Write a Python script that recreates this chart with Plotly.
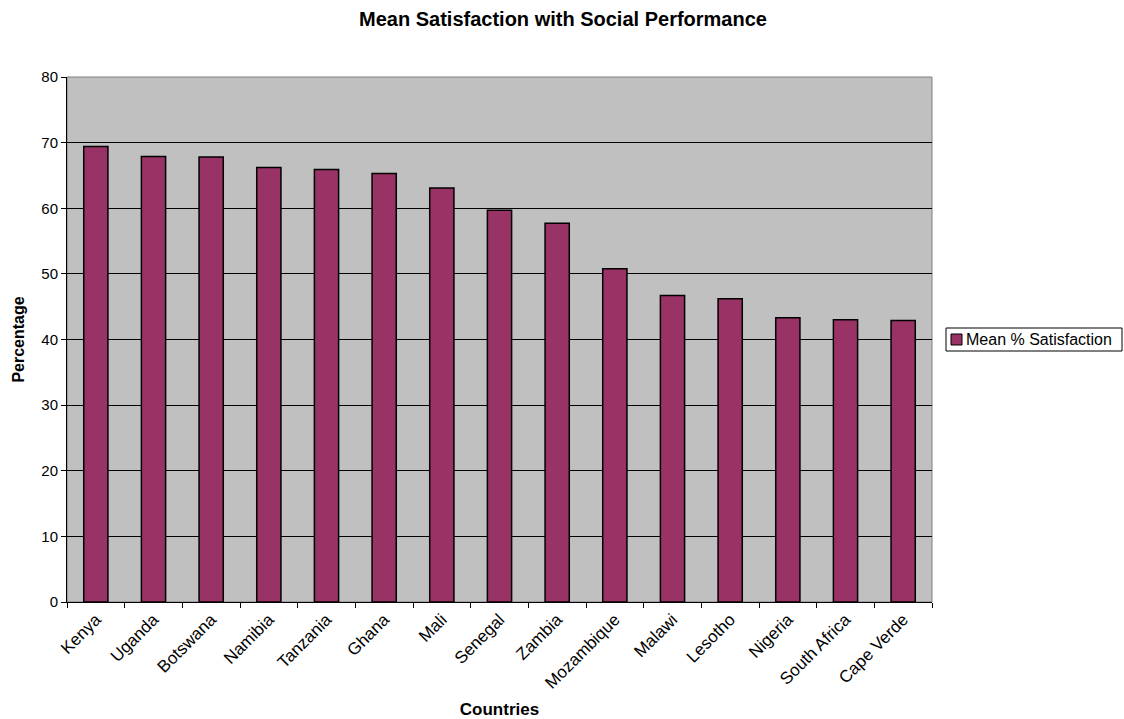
import plotly.graph_objects as go

countries = ["Kenya", "Uganda", "Botswana", "Namibia", "Tanzania", "Ghana", "Mali",
             "Senegal", "Zambia", "Mozambique", "Malawi", "Lesotho", "Nigeria",
             "South Africa", "Cape Verde"]
satisfaction = [69.4, 67.9, 67.8, 66.2, 65.9, 65.3, 63.1,
                59.7, 57.7, 50.8, 46.7, 46.2, 43.3, 43.0, 42.9]
y_ticks = [0, 10, 20, 30, 40, 50, 60, 70, 80]
series_name = "Mean % Satisfaction"

font_family = "Liberation Sans, Arial, sans-serif"
bar_color = "#993366"

W, H = 1124, 719
L, R, T, B = 67, 192, 77, 117
plot_w, plot_h = W - L - R, H - T - B


def px_x(px):
    return (px - L) / plot_w


def px_y(py):
    return (H - B - py) / plot_h


fig = go.Figure()
fig.add_trace(go.Bar(
    x=countries,
    y=satisfaction,
    name=series_name,
    marker=dict(color=bar_color, line=dict(color="#000000", width=1.5)),
    showlegend=False,
))

# Boxed key on the right, drawn as shapes + text
legend_shapes = [
    dict(type="rect", xref="paper", yref="paper",
         x0=px_x(946), x1=px_x(1122), y0=px_y(351), y1=px_y(328),
         line=dict(color="#000000", width=1), fillcolor="#ffffff", layer="above"),
    dict(type="rect", xref="paper", yref="paper",
         x0=px_x(951), x1=px_x(962), y0=px_y(345), y1=px_y(334),
         line=dict(color="#000000", width=1), fillcolor=bar_color, layer="above"),
]

fig.update_layout(
    width=W,
    height=H,
    margin=dict(l=L, r=R, t=T, b=B, autoexpand=False),
    paper_bgcolor="#ffffff",
    plot_bgcolor="#c0c0c0",
    font=dict(family=font_family, size=15, color="#000000"),
    bargap=0.58,
    showlegend=False,
    title=dict(
        text="<b>Mean Satisfaction with Social Performance</b>",
        x=563 / W, xanchor="center", xref="container",
        y=1 - 19 / H, yanchor="middle", yref="container",
        font=dict(size=20, family=font_family),
    ),
    xaxis=dict(
        tickangle=-45,
        tickson="boundaries",
        ticks="outside", ticklen=5, tickcolor="#000000",
        showgrid=False,
        showline=True, linecolor="#000000", linewidth=1,
        tickfont=dict(size=17),
        title=dict(text="<b>Countries</b>", font=dict(size=17), standoff=14),
    ),
    yaxis=dict(
        range=[0, 80],
        tickvals=y_ticks,
        ticks="outside", ticklen=5, tickcolor="#000000",
        showgrid=True, gridcolor="#000000", gridwidth=1,
        showline=True, linecolor="#000000", linewidth=1,
        zeroline=False,
        tickfont=dict(size=15),
        title=dict(text="<b>Percentage</b>", font=dict(size=16), standoff=12),
    ),
    shapes=[dict(
        type="rect", xref="paper", yref="paper", x0=0, x1=1, y0=0, y1=1,
        line=dict(color="#808080", width=1), layer="below",
    )] + legend_shapes,
    annotations=[dict(
        text=series_name, xref="paper", yref="paper",
        x=px_x(964), y=px_y(339.5), xanchor="left", yanchor="middle",
        showarrow=False, font=dict(size=16, family=font_family),
    )],
)

fig.write_html("out.html")
